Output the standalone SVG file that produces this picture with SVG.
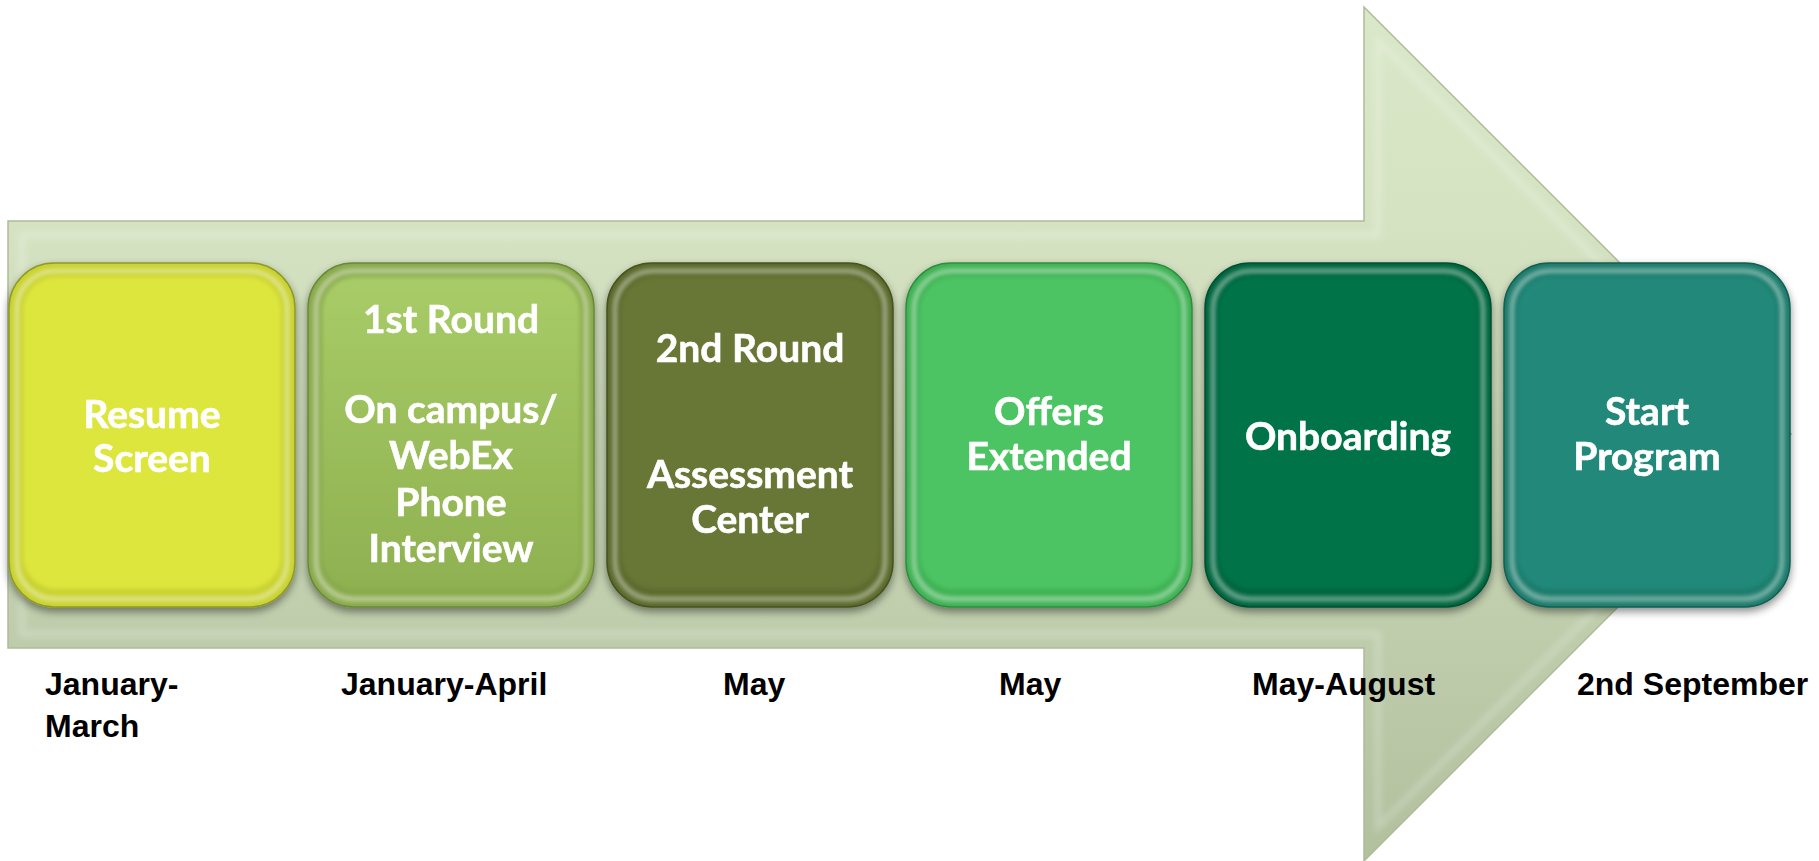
<svg xmlns="http://www.w3.org/2000/svg" width="1819" height="861" viewBox="0 0 1819 861">
  <defs>
    <linearGradient id="arrowFill" x1="0" y1="0" x2="0" y2="1">
      <stop offset="0" stop-color="#DAE7C8"/>
      <stop offset="0.25" stop-color="#D6E3C3"/>
      <stop offset="0.75" stop-color="#BECCAB"/>
      <stop offset="1" stop-color="#B2C09E"/>
    </linearGradient>
    <linearGradient id="round1Fill" x1="0" y1="0" x2="0" y2="1">
      <stop offset="0" stop-color="#A8CC67"/>
      <stop offset="1" stop-color="#8FB151"/>
    </linearGradient>
    <filter id="soft" x="-5%" y="-5%" width="110%" height="110%">
      <feGaussianBlur stdDeviation="2"/>
    </filter>
    <filter id="softer" x="-5%" y="-5%" width="110%" height="110%">
      <feGaussianBlur stdDeviation="3"/>
    </filter>
    <filter id="shadow" x="-10%" y="-10%" width="120%" height="125%">
      <feGaussianBlur in="SourceAlpha" stdDeviation="4"/>
      <feOffset dx="0" dy="4" result="b"/>
      <feComponentTransfer><feFuncA type="linear" slope="0.45"/></feComponentTransfer>
      <feMerge><feMergeNode/><feMergeNode in="SourceGraphic"/></feMerge>
    </filter>
  </defs>
  <style>
    .box { stroke-width: 1.5; }
    .ring { fill: none; stroke: #FFFFFF; stroke-opacity: 0.42; stroke-width: 5; }
    .label { font-family: Lato, "Open Sans", "Noto Sans", sans-serif; font-weight: 700; font-size: 39px; fill: #FFFFFF; stroke: #FFFFFF; stroke-width: 0.6; text-anchor: middle; }
    .date { font-family: "Liberation Sans", Arial, sans-serif; font-weight: 700; font-size: 32px; fill: #000000; }
  </style>

  <!-- big background arrow -->
  <g id="timeline-arrow">
    <path d="M8,221 L1364,221 L1364,7 L1791,434 L1364,861 L1364,648 L8,648 Z" fill="url(#arrowFill)" stroke="#AEBB9A" stroke-width="1.5"/>
    <path d="M22,235 L1378,235 L1378,41 L1771,434 L1378,827 L1378,634 L22,634 Z" fill="none" stroke="#FFFFFF" stroke-opacity="0.22" stroke-width="6" filter="url(#softer)"/>
  </g>

  <!-- no connectors: steps sit on the arrow -->
  <g id="connectors"/>

  <g id="step-resume" filter="url(#shadow)">
    <rect class="box" x="9" y="263" width="286" height="344" rx="45" fill="#C9D230" stroke="#8E9A28"/>
    <rect class="ring" x="17" y="271" width="270" height="328" rx="38" filter="url(#soft)"/>
    <rect x="23" y="277" width="258" height="312" rx="33" fill="#DDE63D" filter="url(#soft)"/>
    <text class="label" x="152" y="428">Resume</text>
    <text class="label" x="152" y="472">Screen</text>
  </g>

  <g id="step-first-round" filter="url(#shadow)">
    <rect class="box" x="308" y="263" width="286" height="344" rx="45" fill="#89AA4C" stroke="#6A8838"/>
    <rect class="ring" x="316" y="271" width="270" height="328" rx="38" filter="url(#soft)"/>
    <rect x="322" y="277" width="258" height="312" rx="33" fill="url(#round1Fill)" filter="url(#soft)"/>
    <text class="label" x="451" y="333">1st Round</text>
    <text class="label" x="451" y="423">On campus/</text>
    <text class="label" x="451" y="469">WebEx</text>
    <text class="label" x="451" y="516">Phone</text>
    <text class="label" x="451" y="562">Interview</text>
  </g>

  <g id="step-second-round" filter="url(#shadow)">
    <rect class="box" x="607" y="263" width="286" height="344" rx="45" fill="#5B6A2C" stroke="#46531F"/>
    <rect class="ring" x="615" y="271" width="270" height="328" rx="38" filter="url(#soft)"/>
    <rect x="621" y="277" width="258" height="312" rx="33" fill="#677735" filter="url(#soft)"/>
    <text class="label" x="750" y="362">2nd Round</text>
    <text class="label" x="750" y="488">Assessment</text>
    <text class="label" x="750" y="533">Center</text>
  </g>

  <g id="step-offers" filter="url(#shadow)">
    <rect class="box" x="906" y="263" width="286" height="344" rx="45" fill="#3FB254" stroke="#2E8E40"/>
    <rect class="ring" x="914" y="271" width="270" height="328" rx="38" filter="url(#soft)"/>
    <rect x="920" y="277" width="258" height="312" rx="33" fill="#4DC463" filter="url(#soft)"/>
    <text class="label" x="1049" y="425">Offers</text>
    <text class="label" x="1049" y="470">Extended</text>
  </g>

  <g id="step-onboarding" filter="url(#shadow)">
    <rect class="box" x="1205" y="263" width="286" height="344" rx="45" fill="#00663F" stroke="#004F30"/>
    <rect class="ring" x="1213" y="271" width="270" height="328" rx="38" filter="url(#soft)"/>
    <rect x="1219" y="277" width="258" height="312" rx="33" fill="#00734A" filter="url(#soft)"/>
    <text class="label" x="1348" y="450">Onboarding</text>
  </g>

  <g id="step-start" filter="url(#shadow)">
    <rect class="box" x="1504" y="263" width="286" height="344" rx="45" fill="#1D7C6C" stroke="#145E52"/>
    <rect class="ring" x="1512" y="271" width="270" height="328" rx="38" filter="url(#soft)"/>
    <rect x="1518" y="277" width="258" height="312" rx="33" fill="#22897A" filter="url(#soft)"/>
    <text class="label" x="1647" y="425">Start</text>
    <text class="label" x="1647" y="470">Program</text>
  </g>

  <!-- period labels under each step -->
  <g id="dates">
    <text class="date" x="45" y="695">January-</text>
    <text class="date" x="45" y="737">March</text>
    <text class="date" x="341" y="695">January-April</text>
    <text class="date" x="723" y="695">May</text>
    <text class="date" x="999" y="695">May</text>
    <text class="date" x="1252" y="695">May-August</text>
    <text class="date" x="1577" y="695">2nd September</text>
  </g>
</svg>
